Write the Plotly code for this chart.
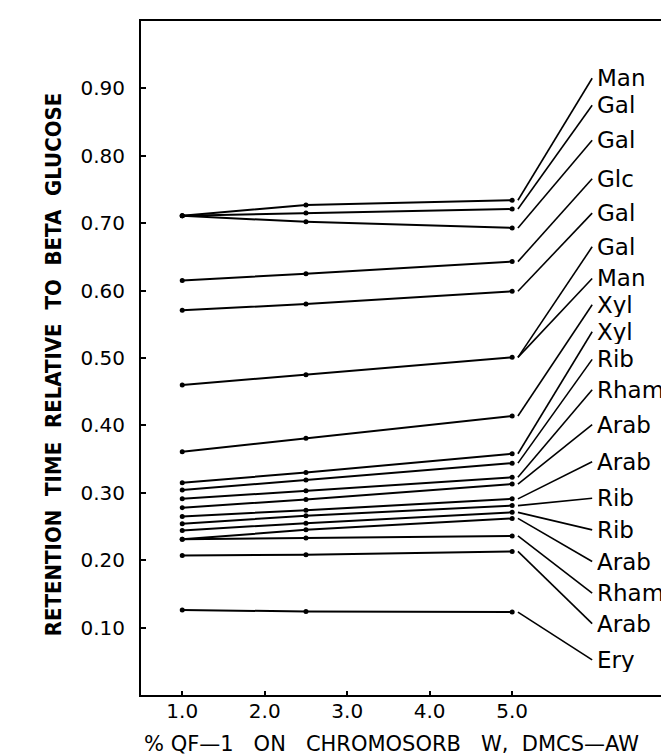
import plotly.graph_objects as go

# ---------------- data ----------------
x_pct = [1.0, 2.5, 5.0]

# retention time relative to beta glucose, one list per line (values at 1.0, 2.5, 5.0 %)
man_1 = [0.711, 0.727, 0.734]
gal_1 = [0.711, 0.715, 0.721]
gal_2 = [0.711, 0.702, 0.693]
glc_1 = [0.615, 0.625, 0.643]
gal_3 = [0.571, 0.580, 0.599]
gal_man = [0.460, 0.475, 0.501]
xyl_1 = [0.361, 0.381, 0.414]
xyl_2 = [0.315, 0.330, 0.358]
rib_1 = [0.304, 0.319, 0.344]
rham_1 = [0.291, 0.303, 0.323]
arab_1 = [0.278, 0.290, 0.313]
arab_2 = [0.265, 0.274, 0.291]
rib_2 = [0.254, 0.266, 0.281]
rib_3 = [0.244, 0.255, 0.271]
arab_3 = [0.231, 0.245, 0.262]
rham_2 = [0.231, 0.233, 0.236]
arab_4 = [0.207, 0.208, 0.213]
ery_1 = [0.126, 0.124, 0.123]

series = [man_1, gal_1, gal_2, glc_1, gal_3, gal_man, xyl_1, xyl_2, rib_1,
          rham_1, arab_1, arab_2, rib_2, rib_3, arab_3, rham_2, arab_4, ery_1]

# right-hand labels and the line each one refers to
labels = ["Man", "Gal", "Gal", "Glc", "Gal", "Gal", "Man", "Xyl", "Xyl", "Rib",
          "Rham", "Arab", "Arab", "Rib", "Rib", "Arab", "Rham", "Arab", "Ery"]
label_series = [0, 1, 2, 3, 4, 5, 5, 6, 7, 8, 9, 10, 11, 12, 13, 14, 15, 16, 17]

y_ticks = [0.10, 0.20, 0.30, 0.40, 0.50, 0.60, 0.70, 0.80, 0.90]
y_tick_text = ["0.10", "0.20", "0.30", "0.40", "0.50", "0.60", "0.70", "0.80", "0.90"]
x_ticks = [1.0, 2.0, 3.0, 4.0, 5.0]
x_tick_text = ["1.0", "2.0", "3.0", "4.0", "5.0"]

# ---------------- layout positions (label placement) ----------------
label_y = [0.915, 0.875, 0.823, 0.766, 0.715, 0.665, 0.618, 0.579, 0.539, 0.498,
           0.453, 0.401, 0.346, 0.292, 0.245, 0.198, 0.151, 0.106, 0.052]
leader_x0 = 5.07
leader_x1 = 5.97
label_x = 6.02

fig = go.Figure()

for s in series:
    fig.add_trace(go.Scatter(
        x=x_pct, y=s, mode="lines+markers",
        line=dict(color="black", width=2),
        marker=dict(color="black", size=5),
        showlegend=False, hoverinfo="skip"))

# leader lines
for lab, si, ly in zip(labels, label_series, label_y):
    y_end = series[si][-1]
    fig.add_trace(go.Scatter(
        x=[leader_x0, leader_x1], y=[y_end, ly], mode="lines",
        line=dict(color="black", width=1.6),
        showlegend=False, hoverinfo="skip", cliponaxis=False))

annotations = []
for lab, ly in zip(labels, label_y):
    annotations.append(dict(
        x=label_x, y=ly, xref="x", yref="y", text=lab, showarrow=False,
        xanchor="left", yanchor="middle", borderpad=0, height=24,
        font=dict(family="DejaVu Sans", size=23, color="black")))

annotations.append(dict(
    x=-0.165, y=0.491, xref="paper", yref="paper",
    text="RETENTION\u00a0\u00a0TIME\u00a0\u00a0RELATIVE\u00a0\u00a0TO\u00a0\u00a0BETA\u00a0\u00a0GLUCOSE",
    textangle=-90, showarrow=False, xanchor="center", yanchor="middle",
    font=dict(family="Liberation Sans Narrow, DejaVu Sans Condensed, Roboto Condensed, DejaVu Sans",
              size=22, color="black", weight="bold")))

annotations.append(dict(
    x=0.471, y=-0.072, xref="paper", yref="paper",
    text="%\u00a0QF\u20141\u00a0\u00a0\u00a0ON\u00a0\u00a0\u00a0CHROMOSORB\u00a0\u00a0\u00a0W,\u00a0\u00a0DMCS\u2014AW",
    showarrow=False, xanchor="center", yanchor="middle", borderpad=0,
    font=dict(family="DejaVu Sans", size=21, color="black")))

fig.update_layout(
    width=669, height=756,
    margin=dict(l=133, r=2, t=13, b=69),
    paper_bgcolor="white", plot_bgcolor="white",
    annotations=annotations,
    xaxis=dict(range=[0.5, 6.95], tickvals=x_ticks, ticktext=x_tick_text,
               ticks="inside", ticklen=4, tickwidth=1.5, tickcolor="black",
               showgrid=False, zeroline=False, showline=True, linecolor="black",
               linewidth=2, mirror=True, ticklabelstandoff=-3,
               tickfont=dict(family="DejaVu Sans", size=20, color="black")),
    yaxis=dict(range=[0.0, 1.0], tickvals=y_ticks, ticktext=y_tick_text,
               ticks="inside", ticklen=5, tickwidth=1.5, tickcolor="black",
               showgrid=False, zeroline=False, showline=True, linecolor="black",
               linewidth=2, mirror=True, ticklabelstandoff=10,
               tickfont=dict(family="DejaVu Sans", size=20, color="black")),
)

fig.write_html("out.html")
